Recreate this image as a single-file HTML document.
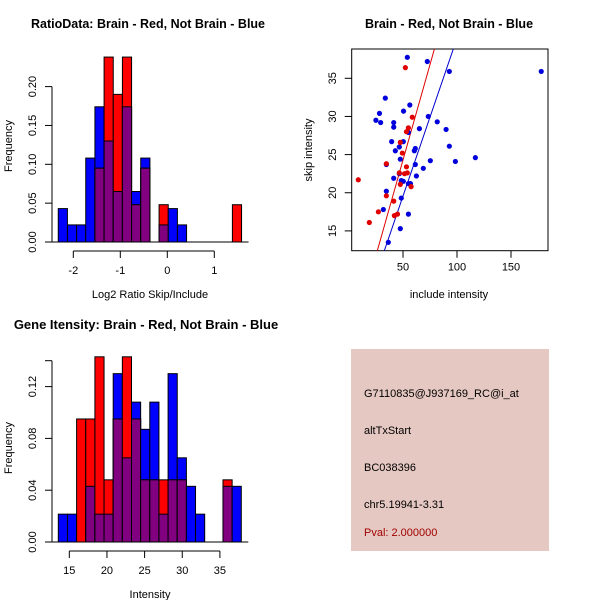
<!DOCTYPE html>
<html><head><meta charset="utf-8"><style>
body{margin:0;background:#fff;}
svg{display:block;font-family:"Liberation Sans",sans-serif;}
</style></head><body>
<svg id="c" width="600" height="600" viewBox="0 0 600 600" xmlns="http://www.w3.org/2000/svg">
<rect width="600" height="600" fill="#fff"/>
<text x="148" y="28" font-size="12.5" font-weight="bold" text-anchor="middle">RatioData: Brain - Red, Not Brain - Blue</text>
<text x="449" y="28" font-size="12.5" font-weight="bold" text-anchor="middle">Brain - Red, Not Brain - Blue</text>
<text x="146" y="329" font-size="13" font-weight="bold" text-anchor="middle">Gene Itensity: Brain - Red, Not Brain - Blue</text>
<g id="p1"></g>
<g id="p2"></g>
<g id="p3"></g>
<g>
<rect x="351" y="349" width="198" height="202" fill="#e6c8c2"/>
<text x="364" y="397" font-size="11">G7110835@J937169_RC@i_at</text>
<text x="364" y="434" font-size="11">altTxStart</text>
<text x="364" y="471" font-size="11">BC038396</text>
<text x="364" y="508" font-size="11">chr5.19941-3.31</text>
<text x="364" y="536" font-size="11" fill="#a00000">Pval: 2.000000</text>
</g>
</svg>
<script>
// Ratio histogram data
const ratioBinStart = -2.32;
const ratioBinWidth = 0.195;
const ratioBlue = [0.043,0.022,0.022,0.108,0.174,0.13,0.065,0.174,0.065,0.108,0,0.022,0.043,0.022,0,0,0,0,0,0];
const ratioRed  = [0,0,0,0,0.095,0.238,0.19,0.238,0.048,0.095,0,0.048,0,0,0,0,0,0,0,0.048];
const ratioXTicks = [-2,-1,0,1];
const ratioYTicks = [0,0.05,0.10,0.15,0.20];
const ratioYLabels = ["0.00","0.05","0.10","0.15","0.20"];
// Intensity histogram data
const intBinStart = 13.54;
const intBinWidth = 1.215;
const intBlue = [0.0215,0.0215,0,0.043,0.0215,0.0215,0.13,0.065,0.108,0.087,0.108,0.0215,0.13,0.065,0.043,0.0215,0,0,0.043,0.043];
const intRed  = [0,0,0.095,0.095,0.143,0.048,0.095,0.143,0.095,0.048,0.048,0.048,0.048,0.048,0,0,0,0,0.048,0];
const intXTicks = [15,20,25,30,35];
const intYTicks = [0,0.04,0.08,0.12];
const intYLabels = ["0.00","0.04","0.08","0.12"];
// Scatter data
const blueX = [54,72.5,92.9,178,33.6,56.3,28.2,50.5,24.9,29.3,41.4,41.4,73.4,81.7,65.2,89.9,55,39.5,50.3,46.6,92.9,42.9,60.5,61.4,47.5,117,75.3,98.5,61.4,34.6,68.8,46.6,41.4,62.4,48.4,50.3,55,56.9,34.6,48.4,31.8,55,47.5,36.4];
const blueY = [37.75,37.2,35.9,35.9,32.4,31.5,30.4,30.7,29.5,29.2,29.2,28.6,30.0,29.3,28.4,28.3,27.9,26.7,26.7,26.0,26.1,25.5,25.5,25.8,24.4,24.6,24.2,24.1,23.7,23.7,23.2,22.5,21.9,22.2,21.6,21.5,21.2,21.2,20.2,19.3,17.8,17.2,15.3,13.5];
const redX = [52.2,58.6,55,53.2,47.5,49.4,34.6,53.2,46.6,54,51.4,47.5,57.5,8.6,34.6,41.4,27.2,44.9,42,18.8];
const redY = [36.4,29.9,28.5,28.0,26.6,25.2,23.8,23.4,22.6,22.6,22.5,21.1,20.8,21.7,19.6,18.9,17.5,17.2,17.0,16.1];
const redFit = [-0.7,0.50];
const blueFit = [-1.14,0.414];
const scXTicks = [50,100,150];
const scYTicks = [15,20,25,30,35];

const NS="http://www.w3.org/2000/svg";
function mk(parent,tag,attrs){const e=document.createElementNS(NS,tag);for(const k in attrs)e.setAttribute(k,attrs[k]);parent.appendChild(e);return e;}

function hist(g,opt){
  const sx=v=>opt.x0px+(v-opt.x0)*opt.kx;
  const sy=v=>opt.y0px-v*opt.ky;
  for(let i=0;i<opt.blue.length;i++){
    const a=opt.binStart+i*opt.binW, b=a+opt.binW;
    const x=sx(a), w=sx(b)-sx(a);
    const bl=opt.blue[i], rd=opt.red[i], mn=Math.min(bl,rd);
    if(bl>0){const r=mk(g,'rect',{x:x,y:sy(bl),width:w,height:sy(0)-sy(bl),fill:'#0000ff',stroke:'#000','stroke-width':1});
      
      }
    if(rd>0){const r=mk(g,'rect',{x:x,y:sy(rd),width:w,height:sy(0)-sy(rd),fill:'#ff0000',stroke:'#000','stroke-width':1});
      
      }
    if(mn>0){const r=mk(g,'rect',{x:x,y:sy(mn),width:w,height:sy(0)-sy(mn),fill:'#800080',stroke:'#000','stroke-width':1});
      
      }
  }
  const bx1=sx(opt.binStart+opt.blue.length*opt.binW);
  mk(g,'line',{x1:52,x2:bx1+7,y1:sy(0),y2:sy(0),stroke:'#000'});
  const ya=mk(g,'g',{});
  
  
  const yt=opt.yTicks;
  mk(ya,'line',{x1:52,x2:52,y1:sy(yt[0]),y2:sy(opt.yTop),stroke:'#000'});
  const tops=yt.concat(opt.yTop>yt[yt.length-1]?[opt.yTop]:[]);
  tops.forEach(v=>mk(ya,'line',{x1:45,x2:52,y1:sy(v),y2:sy(v),stroke:'#000'}));
  yt.forEach((v,i)=>{const t=mk(ya,'text',{x:0,y:0,'font-size':11,'text-anchor':'middle',transform:`translate(36,${sy(v)}) rotate(-90)`});t.textContent=opt.yLabels[i];
    
    });
  const yl=mk(ya,'text',{'font-size':11,'text-anchor':'middle',transform:`translate(12,${opt.yTitleY}) rotate(-90)`});yl.textContent='Frequency';
  
  
  const xa=mk(g,'g',{});
  
  
  const xt=opt.xTicks, ay=sy(0)+9;
  mk(xa,'line',{x1:sx(xt[0]),x2:sx(xt[xt.length-1]),y1:ay,y2:ay,stroke:'#000'});
  xt.forEach(v=>{mk(xa,'line',{x1:sx(v),x2:sx(v),y1:ay,y2:ay+7,stroke:'#000'});
    const t=mk(xa,'text',{x:sx(v),y:ay+23,'font-size':11,'text-anchor':'middle'});t.textContent=String(v);
    
    });
  const xl=mk(xa,'text',{x:opt.xTitleX,y:ay+47,'font-size':11,'text-anchor':'middle'});xl.textContent=opt.xTitle;
  
  
}

hist(document.getElementById('p1'),{blue:ratioBlue,red:ratioRed,binStart:ratioBinStart,binW:ratioBinWidth,
  x0:-2,x0px:73.3,kx:47,y0px:242,ky:777,yTicks:ratioYTicks,yLabels:ratioYLabels,yTop:0.2,xTicks:ratioXTicks,
  xTitle:'Log2 Ratio Skip/Include',xTitleX:150,yTitleY:146});
hist(document.getElementById('p3'),{blue:intBlue,red:intRed,binStart:intBinStart,binW:intBinWidth,
  x0:15,x0px:69.3,kx:7.53,y0px:542,ky:1295,yTicks:intYTicks,yLabels:intYLabels,yTop:0.14,xTicks:intXTicks,
  xTitle:'Intensity',xTitleX:150,yTitleY:448});

(function(){
  const g=document.getElementById('p2');
  const sx=v=>349+v*1.08;
  const sy=v=>78.3-(v-35)*7.63;
  const L=351.7,R=548,T=49,B=250.7;
  const fr=mk(g,'rect',{x:L,y:T,width:R-L,height:B-T,fill:'none',stroke:'#000'});
  
  
  const cp=mk(g,'clipPath',{id:'clip'});mk(cp,'rect',{x:L,y:T,width:R-L,height:B-T});
  function fit(f,col,name){const x1=0,x2=200;const l=mk(g,'line',{x1:sx(x1),y1:sy(f[0]+f[1]*x1),x2:sx(x2),y2:sy(f[0]+f[1]*x2),stroke:col,'clip-path':'url(#clip)'});
    
    }
  fit(redFit,'#e00000','red-fit-line');
  fit(blueFit,'#0000cc','blue-fit-line');
  blueX.forEach((x,i)=>{const c=mk(g,'circle',{cx:sx(x),cy:sy(blueY[i]),r:2.6,fill:'#0000dd'});
    
    });
  redX.forEach((x,i)=>{const c=mk(g,'circle',{cx:sx(x),cy:sy(redY[i]),r:2.6,fill:'#e00000'});
    
    });
  scXTicks.forEach(v=>{mk(g,'line',{x1:sx(v),x2:sx(v),y1:B,y2:B+7,stroke:'#000'});
    const t=mk(g,'text',{x:sx(v),y:B+20,'font-size':11,'text-anchor':'middle'});t.textContent=String(v);
    
    });
  scYTicks.forEach(v=>{mk(g,'line',{x1:L-7,x2:L,y1:sy(v),y2:sy(v),stroke:'#000'});
    const t=mk(g,'text',{'font-size':11,'text-anchor':'middle',transform:`translate(336,${sy(v)}) rotate(-90)`});t.textContent=String(v);
    
    });
  const xl=mk(g,'text',{x:449,y:298,'font-size':11,'text-anchor':'middle'});xl.textContent='include intensity';
  
  
  const yl=mk(g,'text',{'font-size':11,'text-anchor':'middle',transform:'translate(312,150) rotate(-90)'});yl.textContent='skip intensity';
  
  
})();
</script>
</body></html>
